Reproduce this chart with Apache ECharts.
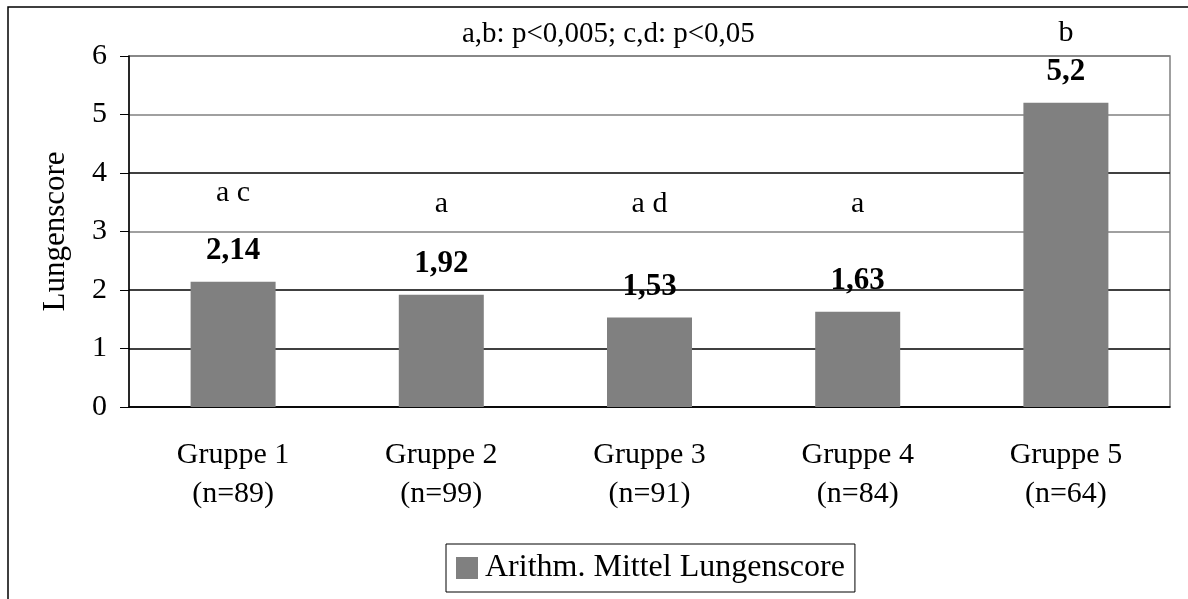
<!DOCTYPE html>
<html>
<head>
<meta charset="utf-8">
<script src="https://cdn.jsdelivr.net/npm/echarts@6/dist/echarts.min.js"></script>
<style>
  html, body { margin: 0; padding: 0; background: #fff; }
  #chart { width: 1188px; height: 599px; }
</style>
</head>
<body>
<div id="chart"></div>
<script>
// data
const categories = ['Gruppe 1\n(n=89)', 'Gruppe 2\n(n=99)', 'Gruppe 3\n(n=91)', 'Gruppe 4\n(n=84)', 'Gruppe 5\n(n=64)'];
const meanScore = [2.14, 1.92, 1.53, 1.63, 5.2];
const sigLetters = ['a c', 'a', 'a d', 'a', 'b'];
const sigLevel = [3.66, 3.47, 3.47, 3.47, 6.39]; // height of the letter marks
const seriesName = 'Arithm. Mittel Lungenscore';
const noteText = 'a,b: p<0,005; c,d: p<0,05';

const font = '"Liberation Serif", "Times New Roman", serif';

const chart = echarts.init(document.getElementById('chart'));
chart.setOption({
  animation: false,
  textStyle: { fontFamily: font, color: '#000' },
  title: {
    text: noteText,
    left: 457, top: 15,
    textStyle: { fontFamily: font, fontSize: 29, fontWeight: 'normal', color: '#000' }
  },
  graphic: [{
    type: 'rect',
    shape: { x: 8, y: 7, width: 1300, height: 700 },
    style: { fill: 'none', stroke: '#000', lineWidth: 1.5 },
    silent: true
  }],
  legend: {
    data: [seriesName],
    left: 446, top: 544,
    padding: [8, 10, 8, 10],
    itemWidth: 22, itemHeight: 22,
    itemGap: 0,
    borderColor: '#000', borderWidth: 1,
    textStyle: { fontFamily: font, fontSize: 32, color: '#000', padding: [0, 0, 0, 2] },
    icon: 'rect'
  },
  grid: {
    left: 129, right: 18, top: 56, bottom: 192,
    show: true, borderColor: '#808080', borderWidth: 1.5
  },
  xAxis: {
    type: 'category',
    data: categories,
    axisLine: { lineStyle: { color: '#000', width: 1.5 } },
    axisTick: { length: 9, lineStyle: { color: '#000' } },
    axisLabel: { fontFamily: font, fontSize: 30, color: '#000', lineHeight: 39, margin: 29 }
  },
  yAxis: {
    type: 'value',
    min: 0, max: 6, interval: 1,
    name: 'Lungenscore',
    nameLocation: 'middle',
    nameGap: 58,
    nameTextStyle: { fontFamily: font, fontSize: 31, color: '#000' },
    axisLine: { show: true, lineStyle: { color: '#000', width: 1.5 } },
    axisTick: { show: true, length: 9, lineStyle: { color: '#000' } },
    axisLabel: { fontFamily: font, fontSize: 30, color: '#000', margin: 22 },
    splitLine: { lineStyle: { color: ['#000', '#000', '#000', '#808080', '#000', '#808080', '#808080'], width: 1.5 } }
  },
  series: [{
    name: seriesName,
    type: 'bar',
    data: meanScore,
    barWidth: 85,
    itemStyle: { color: '#808080' },
    label: {
      show: true,
      position: 'top',
      distance: 15,
      fontFamily: font, fontSize: 31, fontWeight: 'bold', color: '#000',
      formatter: p => String(p.value).replace('.', ',')
    }
  }, {
    type: 'scatter',
    data: sigLevel,
    symbolSize: 0,
    clip: false,
    silent: true,
    itemStyle: { opacity: 1 },
    label: {
      show: true,
      position: 'inside',
      fontFamily: font, fontSize: 30, color: '#000',
      textBorderWidth: 0,
      opacity: 1,
      formatter: p => sigLetters[p.dataIndex]
    }
  }]
});
</script>
</body>
</html>
